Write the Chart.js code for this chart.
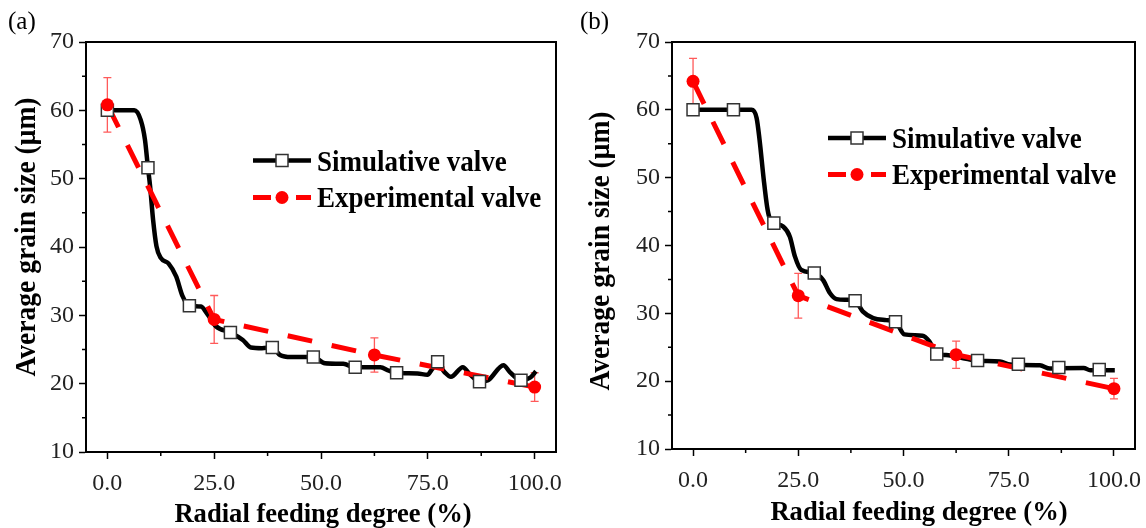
<!DOCTYPE html>
<html><head><meta charset="utf-8">
<script src="https://cdn.jsdelivr.net/npm/chart.js@4.4.0/dist/chart.umd.min.js"></script>
<style>
html,body{margin:0;padding:0;background:#fff;}
#wrap{position:relative;width:1146px;height:528px;overflow:hidden;background:#fff;}
canvas{position:absolute;top:0;}
</style></head><body>
<div id="wrap">
<canvas id="ca" width="573" height="528" style="left:0px"></canvas>
<canvas id="cb" width="573" height="528" style="left:573px"></canvas>
</div>
<script>
// ---- tick / label data ----
const xTicks = [0, 25, 50, 75, 100];
const xTickLabels = ['0.0', '25.0', '50.0', '75.0', '100.0'];
const xMinorTicks = [12.5, 37.5, 62.5, 87.5];
const yTicks = [10, 20, 30, 40, 50, 60, 70];
const yMinorTicks = [15, 25, 35, 45, 55, 65];
const seriesNames = ['Simulative valve', 'Experimental valve'];
const xTitle = 'Radial feeding degree (%)';
const yTitle = 'Average grain size (μm)';
const panelLabels = ['(a)', '(b)'];

// ---- panel (a) ----
const aSimCurveX = [0,6.3,7.8,8.8,9.5,10.0,10.7,11.5,12.5,14.3,16.1,17.6,19.2,21.9,23.5,25.4,28.8,31.7,33.6,36.2,38.6,40.4,43.0,45.6,48.2,50.9,55.2,58.0,63.9,65.9,67.7,72.6,74.9,76.1,77.3,78.9,80.4,83.2,84.8,87.1,89.1,92.7,94.2,96.8,99.0,100.3];
const aSimCurveY = [60,60,58.6,55.7,51.6,48.9,44.0,40.1,38.4,37.6,35.7,32.8,31.4,31.3,30.1,28.4,27.5,26.4,25.3,25.2,25.3,24.2,23.9,23.9,23.9,23.0,22.9,22.4,22.4,21.9,21.6,21.5,21.3,22.2,22.9,21.7,21.0,22.4,21.4,20.3,20.5,22.7,21.7,20.5,20.9,21.8];
const aSimMarkX = [0, 9.5, 19.2, 28.8, 38.6, 48.2, 58.0, 67.7, 77.3, 87.1, 96.8];
const aSimMarkY = [60, 51.6, 31.4, 27.5, 25.3, 23.9, 22.4, 21.6, 23.2, 20.3, 20.5];
const aExpX = [0, 25, 62.5, 100];
const aExpY = [60.8, 29.4, 24.2, 19.5];
const aExpErr = [4.0, 3.5, 2.5, 2.1];

// ---- panel (b) ----
const bSimCurveX = [0,13.9,15.1,15.8,16.8,17.6,18.2,19.2,21.4,23.0,24.2,25.7,28.8,30.9,32.5,34.1,36.4,38.5,40.3,42.8,45.9,48.1,50.2,54.5,56.1,57.9,60.1,64.9,67.6,72.9,75.3,77.3,82.4,84.8,86.9,92.8,94.4,96.5,100.2];
const bSimCurveY = [60,60,58.8,55.6,49.7,45.7,44.0,43.3,42.8,41.3,38.4,36.4,35.95,34.9,33.0,32.1,32.0,31.85,30.3,29.3,29.0,28.75,26.9,26.7,25.9,24.0,23.85,23.3,23.0,22.9,22.45,22.4,22.35,21.85,21.9,21.95,21.6,21.6,21.6];
const bSimMarkX = [0, 9.6, 19.2, 28.8, 38.5, 48.1, 57.9, 67.6, 77.3, 86.9, 96.5];
const bSimMarkY = [60, 60, 43.3, 35.95, 31.85, 28.75, 24.0, 23.05, 22.5, 22.0, 21.7];
const bExpX = [0, 25, 62.5, 100];
const bExpY = [64.2, 32.6, 23.9, 18.9];
const bExpErr = [3.4, 3.3, 2.0, 1.5];

// ---- styling / placement (not data) ----
const SERIF = '"Liberation Serif", "DejaVu Serif", serif';
const layoutCfg = {
  ca: { padTop: 42, padRight: 17, yW: 86, xH: 76,
        label: panelLabels[0], labelX: 8, labelY: 29,
        xtX: 323, xtY: 522, ytX: 34.5, ytY: 237,
        legLine: [253, 311], legMark: 282, legText: 317, legY: [160.5, 197.5], legBase: [170.5, 206.5] },
  cb: { padTop: 42, padRight: 11, yW: 99, xH: 79,
        label: panelLabels[1], labelX: 7, labelY: 29,
        xtX: 346, xtY: 520, ytX: 35.5, ytY: 251,
        legLine: [255, 313], legMark: 284, legText: 319, legY: [138, 174.5], legBase: [147.5, 183.5] }
};
const errData = {
  ca: { x: aExpX, y: aExpY, e: aExpErr },
  cb: { x: bExpX, y: bExpY, e: bExpErr }
};

function pts(xs, ys) { return xs.map((x, i) => ({ x: x, y: ys[i] })); }

function drawText(ctx, s, x, y, font, sx, align, rot) {
  ctx.save();
  ctx.translate(x, y);
  if (rot) ctx.rotate(rot);
  ctx.scale(sx, 1);
  ctx.font = font;
  ctx.textAlign = align;
  ctx.textBaseline = 'alphabetic';
  ctx.fillStyle = '#000';
  ctx.fillText(s, 0, 0);
  ctx.restore();
}

const decor = {
  id: 'decor',
  beforeDatasetsDraw(chart) {
    const d = errData[chart.canvas.id];
    const xs = chart.scales.x, ys = chart.scales.y, ctx = chart.ctx;
    ctx.save();
    ctx.strokeStyle = '#ff5a5a';
    ctx.lineWidth = 1.3;
    d.x.forEach((xv, i) => {
      const px = xs.getPixelForValue(xv);
      const top = ys.getPixelForValue(d.y[i] + d.e[i]);
      const bot = ys.getPixelForValue(d.y[i] - d.e[i]);
      ctx.beginPath();
      ctx.moveTo(px, top); ctx.lineTo(px, bot);
      ctx.moveTo(px - 4, top); ctx.lineTo(px + 4, top);
      ctx.moveTo(px - 4, bot); ctx.lineTo(px + 4, bot);
      ctx.stroke();
    });
    ctx.restore();
  },
  afterDraw(chart) {
    const L = layoutCfg[chart.canvas.id];
    const ctx = chart.ctx, a = chart.chartArea;
    const xs = chart.scales.x, ys = chart.scales.y;
    ctx.save();
    // frame top & right
    ctx.strokeStyle = '#000';
    ctx.lineWidth = 2;
    ctx.beginPath();
    ctx.moveTo(a.left, a.top); ctx.lineTo(a.right, a.top); ctx.lineTo(a.right, a.bottom);
    ctx.stroke();
    // minor ticks
    ctx.lineWidth = 1.5;
    ctx.beginPath();
    yMinorTicks.forEach(v => { const p = ys.getPixelForValue(v); ctx.moveTo(a.left, p); ctx.lineTo(a.left - 4, p); });
    xMinorTicks.forEach(v => { const p = xs.getPixelForValue(v); ctx.moveTo(p, a.bottom); ctx.lineTo(p, a.bottom + 4); });
    ctx.stroke();
    // panel label
    drawText(ctx, L.label, L.labelX, L.labelY, '25px ' + SERIF, 1, 'left', 0);
    // axis titles
    drawText(ctx, xTitle, L.xtX, L.xtY, 'bold 28px ' + SERIF, 0.95, 'center', 0);
    drawText(ctx, yTitle, L.ytX, L.ytY, 'bold 29px ' + SERIF, 0.95, 'center', -Math.PI / 2);
    // legend: simulative
    const y1 = L.legY[0], y2 = L.legY[1];
    ctx.strokeStyle = '#000';
    ctx.lineWidth = 4.5;
    ctx.beginPath(); ctx.moveTo(L.legLine[0], y1); ctx.lineTo(L.legLine[1], y1); ctx.stroke();
    ctx.fillStyle = '#fff'; ctx.strokeStyle = '#333'; ctx.lineWidth = 1.5;
    ctx.beginPath(); ctx.rect(L.legMark - 6, y1 - 6, 12, 12); ctx.fill(); ctx.stroke();
    // legend: experimental
    ctx.strokeStyle = '#ff0000'; ctx.lineWidth = 5;
    ctx.beginPath();
    ctx.moveTo(L.legLine[0], y2); ctx.lineTo(L.legLine[0] + 18, y2);
    ctx.moveTo(L.legLine[1] - 15, y2); ctx.lineTo(L.legLine[1], y2);
    ctx.stroke();
    ctx.fillStyle = '#ff0000';
    ctx.beginPath(); ctx.arc(L.legMark, y2, 6.5, 0, Math.PI * 2); ctx.fill();
    drawText(ctx, seriesNames[0], L.legText, L.legBase[0], 'bold 30px ' + SERIF, 0.9, 'left', 0);
    drawText(ctx, seriesNames[1], L.legText, L.legBase[1], 'bold 30px ' + SERIF, 0.9, 'left', 0);
    ctx.restore();
  }
};

function makeChart(id, simCX, simCY, simMX, simMY, expX, expY) {
  const L = layoutCfg[id];
  return new Chart(document.getElementById(id), {
    type: 'line',
    data: {
      datasets: [
        { label: seriesNames[1], data: pts(expX, expY), showLine: false, order: 0,
          pointStyle: 'circle', pointRadius: 6.5, pointBackgroundColor: '#ff0000', pointBorderColor: '#ff0000', pointBorderWidth: 0 },
        { label: seriesNames[0], data: pts(simMX, simMY), showLine: false, order: 1,
          pointStyle: 'rect', pointRadius: 8.5, pointBackgroundColor: '#ffffff', pointBorderColor: '#333333', pointBorderWidth: 1.5 },
        { label: seriesNames[1] + ' line', data: pts(expX, expY), order: 2, pointRadius: 0,
          borderColor: '#ff0000', borderWidth: 5, borderDash: [25, 20], tension: 0, fill: false },
        { label: seriesNames[0] + ' curve', data: pts(simCX, simCY), order: 3, pointRadius: 0,
          borderColor: '#000000', borderWidth: 4.5, cubicInterpolationMode: 'monotone', fill: false }
      ]
    },
    options: {
      responsive: false,
      animation: false,
      devicePixelRatio: 1,
      layout: { padding: { top: L.padTop, right: L.padRight, left: 0, bottom: 0 } },
      plugins: { legend: { display: false }, tooltip: { enabled: false } },
      scales: {
        x: {
          type: 'linear', min: -5, max: 105,
          afterBuildTicks: s => { s.ticks = xTicks.map(v => ({ value: v })); },
          afterFit: s => { s.height = L.xH; s.paddingLeft = 0; s.paddingRight = 0; },
          ticks: { callback: (v, i) => xTickLabels[i], font: { family: SERIF, size: 24 }, color: '#222', padding: 10, maxRotation: 0 },
          grid: { drawOnChartArea: false, drawTicks: true, tickLength: 7, tickWidth: 1.5, tickColor: '#000' },
          border: { display: true, color: '#000', width: 2 }
        },
        y: {
          type: 'linear', min: 10, max: 70,
          afterBuildTicks: s => { s.ticks = yTicks.map(v => ({ value: v })); },
          afterFit: s => { s.width = L.yW; s.paddingTop = 0; s.paddingBottom = 0; },
          ticks: { font: { family: SERIF, size: 24 }, color: '#222', padding: 5 },
          grid: { drawOnChartArea: false, drawTicks: true, tickLength: 7, tickWidth: 1.5, tickColor: '#000' },
          border: { display: true, color: '#000', width: 2 }
        }
      }
    },
    plugins: [decor]
  });
}

makeChart('ca', aSimCurveX, aSimCurveY, aSimMarkX, aSimMarkY, aExpX, aExpY);
makeChart('cb', bSimCurveX, bSimCurveY, bSimMarkX, bSimMarkY, bExpX, bExpY);
</script>
</body></html>
